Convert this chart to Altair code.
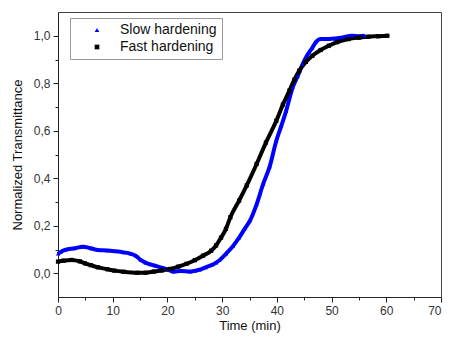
import altair as alt
import pandas as pd

series_names = ["Slow hardening", "Fast hardening"]
series_colors = ["#0000ff", "#000000"]
series_shapes = ["triangle-up", "square"]

slow_t = [0, 0.5, 1.3, 3, 4.6, 6, 7.3, 9, 10.3, 12, 13.3, 14.3, 15.1, 16, 16.9, 18, 19.3,
          20.2, 21.1, 22.5, 24.1, 25, 25.9, 27, 28.3, 28.9, 29.5, 30.7, 32, 33.1, 34.2,
          35.1, 36.3, 37.5, 38.7, 39.9, 40.8, 41.7, 42.9, 43.8, 44.7, 45.6, 46.5, 47.2,
          48, 49.5, 50.7, 52, 53.7, 55, 56.1]
slow_v = [0.082, 0.09, 0.098, 0.105, 0.112, 0.105, 0.098, 0.096, 0.093, 0.088, 0.082,
          0.072, 0.056, 0.045, 0.037, 0.03, 0.021, 0.014, 0.007, 0.009, 0.007, 0.01,
          0.015, 0.025, 0.037, 0.045, 0.055, 0.082, 0.115, 0.15, 0.19, 0.222, 0.29,
          0.376, 0.45, 0.558, 0.62, 0.684, 0.783, 0.83, 0.88, 0.92, 0.95, 0.975, 0.986,
          0.986, 0.988, 0.993, 1.0, 0.998, 1.0]

fast_t = [0, 1, 2.5, 4, 4.9, 6, 7.3, 9, 10.3, 12, 14.5, 16, 17.5, 19, 20.5, 22, 23.5,
          25, 26.5, 28, 28.9, 29.8, 30.7, 31.5, 33.1, 34.5, 36.3, 38, 39.9, 41.1, 42.3,
          43.2, 44.1, 45.3, 46.5, 48, 49.5, 51, 53.1, 55, 56.7, 58.5, 60.2]
fast_v = [0.049, 0.053, 0.056, 0.05, 0.042, 0.034, 0.025, 0.017, 0.011, 0.006, 0.002,
          0.002, 0.007, 0.012, 0.018, 0.028, 0.04, 0.055, 0.074, 0.095, 0.117, 0.15,
          0.187, 0.236, 0.306, 0.37, 0.46, 0.55, 0.642, 0.71, 0.769, 0.815, 0.853, 0.89,
          0.916, 0.94, 0.958, 0.973, 0.986, 0.992, 0.996, 0.998, 1.0]

x_ticks = list(range(0, 71, 5))
y_ticks = [round(i * 0.1, 1) for i in range(0, 11)]

df = pd.concat([
    pd.DataFrame({"t": slow_t, "v": slow_v, "s": series_names[0]}),
    pd.DataFrame({"t": fast_t, "v": fast_v, "s": series_names[1]}),
])

FONT = "Liberation Sans"

x_enc = alt.X(
    "t:Q",
    scale=alt.Scale(domain=[0, 70], nice=False, zero=False),
    axis=alt.Axis(
        title="Time (min)", values=x_ticks, grid=False,
        labelExpr="datum.value % 10 === 0 ? datum.label : ''",
        labelOverlap=False, labelFlush=False, labelBound=False,
        labelAlign={"condition": {"test": "datum.value === 70", "value": "right"}, "value": "center"},
        tickSize={"condition": {"test": "datum.value % 10 === 0", "value": 5}, "value": 3},
        labelPadding=3, titlePadding=3,
    ),
)
y_enc = alt.Y(
    "v:Q",
    scale=alt.Scale(domain=[-0.1, 1.1], nice=False, zero=False),
    axis=alt.Axis(
        title="Normalized Transmittance", values=y_ticks, grid=False,
        labelExpr="round(datum.value*10) % 2 === 0 ? replace(format(datum.value, '.1f'), '.', ',') : ''",
        labelOverlap=False, labelFlush=False,
        tickSize={"condition": {"test": "round(datum.value*10) % 2 === 0", "value": 5}, "value": 3},
        labelPadding=3, titlePadding=9,
    ),
)

color_scale = alt.Scale(domain=series_names, range=series_colors)
shape_scale = alt.Scale(domain=series_names, range=series_shapes)

legend = alt.Legend(
    title=None, orient="none", legendX=12, legendY=6,
    strokeColor="#999", fillColor="white", padding=5,
    labelFontSize=14, labelFont=FONT, labelColor="#111",
    symbolSize=22, symbolOffset=15, labelOffset=16, rowPadding=3,
    symbolStrokeWidth=0,
)

lines = alt.Chart(df).mark_line(strokeWidth=4, interpolate="monotone").encode(
    x=x_enc, y=y_enc,
    color=alt.Color("s:N", scale=color_scale, legend=legend, sort=series_names),
    detail="s:N",
)

points = alt.Chart(df).mark_point(filled=True, size=18, opacity=1).encode(
    x=x_enc, y=y_enc,
    color=alt.Color("s:N", scale=color_scale, legend=legend, sort=series_names),
    shape=alt.Shape("s:N", scale=shape_scale, legend=legend, sort=series_names),
)

chart = (
    alt.layer(lines, points)
    .properties(
        width=383, height=285,
        autosize=alt.AutoSizeParams(type="none"),
        padding={"left": 50, "top": 4, "right": 1, "bottom": 36},
    )
    .configure_view(stroke="#444", strokeWidth=1)
    .configure_axis(
        domainColor="#222", tickColor="#222", labelColor="#333",
        labelFont=FONT, titleFont=FONT, labelFontSize=12, titleFontSize=13,
        titleFontWeight="normal", titleColor="#111",
    )
)

chart.save("out.html", embed_options={"renderer": "svg", "actions": False})
